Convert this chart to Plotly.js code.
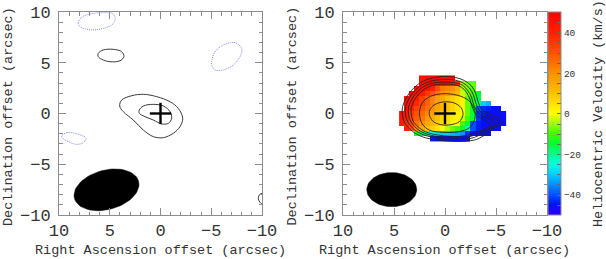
<!DOCTYPE html>
<html><head><meta charset="utf-8">
<script src="https://cdn.plot.ly/plotly-3.0.1.min.js"></script>
<style>html,body{margin:0;padding:0;background:#fff}#plot{width:606px;height:259px}</style>
</head><body><div id="plot"></div>
<script>
// ---------- DATA ----------
const n = null;
// velocity map cell centres (arcsec)
const raCenters = [4.25,3.75,3.25,2.75,2.25,1.75,1.25,0.75,0.25,-0.25,-0.75,-1.25,-1.75,-2.25,-2.75,-3.25,-3.75,-4.25,-4.75,-5.25,-5.75];
const decCenters = [3.5,3.0,2.5,2.0,1.5,1.0,0.5,0.0,-0.5,-1.0,-1.5,-2.0,-2.5];
// heliocentric velocity (km/s), one row per declination
const velocity = [
  [n,n,n,n,45,46,47,47,46,45,44,n,n,n,n,n,n,n,n,n,n],
  [n,n,n,n,44,45,46,46,45,44,42,38,-5,-7,-8,n,n,n,n,n,n],
  [n,n,n,45,45,44,40,30,24,22,20,15,-4,-7,-9,n,n,n,n,n,n],
  [n,n,46,45,42,35,30,24,20,18,15,12,-3,-6,-10,-15,n,n,n,n,n],
  [n,46,44,41,34,28,22,18,15,10,8,5,2,-8,-12,-16,n,n,n,n,n],
  [n,45,42,38,33,27,22,16,12,9,7,5,2,-8,-12,-18,-30,-32,n,n,n],
  [n,44,40,33,29,25,20,16,13,9,7,4,1,-8,-14,-40,-43,-44,-45,-45,n],
  [46,43,35,30,26,21,17,13,9,6,4,2,0,-8,-15,-42,-44,-45,-46,-46,-46],
  [44,41,33,28,24,18,14,10,7,5,3,1,-3,-10,-16,-42,-45,-46,-46,-46,-46],
  [42,38,32,24,20,15,12,8,6,4,2,0,-10,-15,-40,-44,-45,-46,-46,-46,-46],
  [n,40,30,22,15,10,7,4,0,-4,-8,-10,-14,-22,-40,-44,-46,-46,-46,-46,n],
  [n,n,n,-12,-16,-20,-25,-28,-30,-30,-32,-33,-35,-42,-45,-46,-46,-46,n,n,n],
  [n,n,n,n,n,n,-44,-45,-46,-46,-46,-46,-46,-46,n,n,n,n,n,n,n]
];
// left panel: integrated-intensity contours [RA, Dec]
const leftPosOuter = [[4.02,0.74],[3.82,1.33],[2.84,1.75],[1.69,1.89],[0.37,1.66],[-0.94,1.16],[-1.75,0.51],[-2.19,-0.48],[-1.92,-1.30],[-1.26,-1.95],[-0.28,-2.38],[0.71,-2.28],[1.69,-1.63],[2.68,-0.64],[3.67,0.18],[4.02,0.74]];
const leftPosInner = [[2.09,0.34],[1.69,0.74],[0.71,0.90],[-0.28,0.74],[-0.94,0.18],[-1.10,-0.48],[-0.77,-0.97],[-0.12,-1.03],[0.71,-0.64],[1.53,-0.31],[2.09,0.02],[2.09,0.34]];
const leftPosNorth = [[6.13,5.93],[5.64,6.26],[4.65,6.32],[3.82,6.09],[3.60,5.60],[3.99,5.20],[4.98,5.10],[5.79,5.34],[6.13,5.60],[6.13,5.93]];
const leftPosEdge = [[-10.0,-7.85],[-9.72,-8.05],[-9.64,-8.40],[-9.80,-8.75],[-10.0,-8.95]];
const leftNegNW = [[8.03,8.65],[8.10,8.95],[7.76,9.48],[6.95,9.80],[5.64,9.93],[4.65,9.80],[4.48,9.21],[4.81,8.72],[5.64,8.39],[6.62,8.23],[7.61,8.39],[8.03,8.65]];
const leftNegNE = [[-5.04,5.10],[-5.37,6.09],[-6.19,6.75],[-7.34,6.98],[-8.00,6.42],[-7.83,5.60],[-7.17,4.78],[-6.19,4.29],[-5.37,4.29],[-5.04,4.78],[-5.04,5.10]];
const leftNegW = [[9.73,-2.22],[9.24,-1.89],[8.42,-1.95],[7.34,-2.44],[7.61,-2.87],[8.26,-3.04],[9.08,-2.78],[9.64,-2.44],[9.73,-2.22]];
// right panel: intensity contours overlaid on the velocity map
const rightC1 = [[4.15,0.7],[3.5,2.0],[2.6,2.9],[1.6,3.4],[0.2,3.65],[-1.0,3.55],[-1.9,3.25],[-2.6,2.7],[-3.0,2.0],[-3.2,1.3],[-3.6,0.4],[-4.5,-0.1],[-5.3,-0.5],[-5.65,-0.85],[-5.2,-1.2],[-4.6,-1.6],[-4.0,-2.05],[-3.1,-2.55],[-1.8,-2.75],[0.5,-2.65],[2.2,-2.3],[3.2,-1.75],[3.9,-1.0],[4.15,-0.3],[4.15,0.7]];
const rightC2 = [[3.85,0.7],[3.25,1.9],[2.45,2.7],[1.5,3.15],[0.2,3.35],[-0.95,3.3],[-1.8,3.0],[-2.4,2.5],[-2.8,1.8],[-3.0,1.1],[-3.45,0.2],[-4.3,-0.3],[-5.0,-0.65],[-5.3,-0.95],[-4.9,-1.25],[-4.3,-1.6],[-3.7,-1.95],[-2.9,-2.35],[-1.7,-2.55],[0.5,-2.45],[2.1,-2.1],[3.0,-1.6],[3.6,-0.9],[3.85,-0.3],[3.85,0.7]];
const rightC3 = [[3.55,0.7],[3.0,1.8],[2.3,2.5],[1.4,2.95],[0.2,3.1],[-0.9,3.05],[-1.7,2.8],[-2.2,2.3],[-2.6,1.6],[-2.8,0.9],[-3.3,0.0],[-4.1,-0.45],[-4.7,-0.8],[-4.95,-1.05],[-4.6,-1.3],[-4.0,-1.6],[-3.4,-1.9],[-2.7,-2.2],[-1.6,-2.4],[0.5,-2.3],[2.0,-1.95],[2.8,-1.45],[3.35,-0.8],[3.55,-0.2],[3.55,0.7]];
const rightC4 = [[3.3,0.6],[2.8,1.65],[2.15,2.3],[1.3,2.75],[0.2,2.9],[-0.85,2.85],[-1.6,2.6],[-2.1,2.1],[-2.45,1.4],[-2.65,0.7],[-3.1,-0.15],[-3.8,-0.6],[-4.35,-0.95],[-4.55,-1.15],[-4.2,-1.35],[-3.7,-1.6],[-3.1,-1.85],[-2.5,-2.05],[-1.5,-2.25],[0.5,-2.15],[1.9,-1.8],[2.65,-1.3],[3.15,-0.7],[3.3,-0.1],[3.3,0.6]];
const rightC5 = [[2.5,0.1],[2.2,1.1],[1.4,1.7],[0.2,1.95],[-1.2,1.8],[-2.3,1.3],[-2.9,0.4],[-2.9,-0.6],[-2.4,-1.4],[-1.3,-1.8],[0.2,-1.85],[1.5,-1.65],[2.25,-1.0],[2.5,0.1]];
const rightC6 = [[1.55,0],[1.3,0.65],[0.6,1.05],[-0.3,1.15],[-1.1,0.95],[-1.65,0.45],[-1.75,-0.2],[-1.4,-0.8],[-0.6,-1.1],[0.4,-1.1],[1.2,-0.75],[1.55,0]];
// source position marker and synthesized beams
const source = {ra: 0, dec: 0, half: 1.05};
const beamLeft = {ra: 5.32, dec: -7.52, a: 3.27, b: 1.94, tilt: 15};
const beamRight = {ra: 5.22, dec: -7.5, a: 2.45, b: 1.68, tilt: 0};
// axes
const axisRange = [10, -10];
const tickStep = 5;
const cbarTickVals = [-50,-45,-40,-35,-30,-25,-20,-15,-10,-5,0,5,10,15,20,25,30,35,40,45,50];
const cbarLabelled = [-40,-20,0,20,40];

// ---------- BUILD ----------
const FONT = 'Liberation Mono, DejaVu Sans Mono, monospace';
const TXT = '#333';
const FRAME = '#8c8c8c';

// heatmap in ascending order of both coordinates
const hmX = raCenters.slice().reverse();
const hmY = decCenters.slice().reverse();
const hmZ = velocity.slice().reverse().map(r => r.slice().reverse());

function path(pts){ return {x: pts.map(p=>p[0]), y: pts.map(p=>p[1])}; }
function line(pts, xa, ya, color, width, dash){
  const p = path(pts);
  return {type:'scatter', mode:'lines', x:p.x, y:p.y, xaxis:xa, yaxis:ya, hoverinfo:'skip',
    line:{color:color, width:width, dash:dash||'solid', shape:'spline', smoothing:1}};
}
function beam(bm, xa, ya){
  const xs=[], ys=[], t=bm.tilt*Math.PI/180;
  for(let i=0;i<=72;i++){
    const u=2*Math.PI*i/72;
    const sx = bm.a*Math.cos(u)*Math.cos(t) - bm.b*Math.sin(u)*Math.sin(t);
    const sy = bm.a*Math.cos(u)*Math.sin(t) + bm.b*Math.sin(u)*Math.cos(t);
    xs.push(bm.ra - sx); ys.push(bm.dec + sy);
  }
  return {type:'scatter', mode:'lines', x:xs, y:ys, xaxis:xa, yaxis:ya, fill:'toself',
    fillcolor:'#000', line:{color:'#000', width:0.5}, hoverinfo:'skip'};
}
function cross(xa, ya){
  return [
    {type:'scatter', mode:'lines', x:[source.ra+source.half, source.ra-source.half], y:[source.dec, source.dec], xaxis:xa, yaxis:ya, line:{color:'#000', width:2.4}, hoverinfo:'skip'},
    {type:'scatter', mode:'lines', x:[source.ra, source.ra], y:[source.dec-source.half, source.dec+source.half], xaxis:xa, yaxis:ya, line:{color:'#000', width:2.4}, hoverinfo:'skip'}
  ];
}

const POS = '#3a3a3a', NEG = '#8a8af0';
const traces = [
  {type:'heatmap', x:hmX, y:hmY, z:hmZ, xaxis:'x2', yaxis:'y2', zmin:-50, zmax:50,
   zsmooth:false, hoverinfo:'skip',
   colorscale:[[0,'#3000ff'],[0.05,'#0010ff'],[0.1,'#0050ff'],[0.15,'#0090ff'],[0.2,'#00d0ff'],[0.25,'#00ffe0'],[0.3,'#00ff90'],[0.35,'#00ff30'],[0.4,'#40ff00'],[0.45,'#a0ff00'],[0.5,'#ffff00'],[0.55,'#ffe000'],[0.6,'#ffc000'],[0.65,'#ffa800'],[0.7,'#ff9000'],[0.75,'#ff7000'],[0.8,'#ff5000'],[0.85,'#ff3800'],[0.9,'#ff2000'],[0.95,'#ff1000'],[1,'#ff0000']],
   colorbar:{x:547.5/606, xanchor:'left', xref:'paper', y:1-113.9/259, yanchor:'middle', len:202.5/259, lenmode:'fraction',
     thickness:12.5, thicknessmode:'pixels', xpad:0, ypad:0, outlinewidth:1, outlinecolor:FRAME,
     tickmode:'array', tickvals:cbarTickVals, ticktext:cbarTickVals.map(v=>cbarLabelled.includes(v)?(v<0?'\u2212'+(-v):String(v)):''),
     ticks:'inside', ticklen:4, tickcolor:'#666', tickwidth:1,
     tickfont:{family:FONT, size:9.5, color:TXT}, title:{text:''}}
  },
  line(leftPosOuter,'x','y',POS,1),
  line(leftPosInner,'x','y',POS,1),
  line(leftPosNorth,'x','y',POS,1),
  line(leftPosEdge,'x','y',POS,1),
  line(leftNegNW,'x','y',NEG,1,'1px,1px'),
  line(leftNegNE,'x','y',NEG,1,'1px,1px'),
  line(leftNegW,'x','y',NEG,1,'1px,1px'),
  beam(beamLeft,'x','y'),
  ...cross('x','y'),
  line(rightC1,'x2','y2','#222',0.9),
  line(rightC2,'x2','y2','#222',0.9),
  line(rightC3,'x2','y2','#222',0.9),
  line(rightC4,'x2','y2','#222',0.9),
  line(rightC5,'x2','y2','#222',0.9),
  line(rightC6,'x2','y2','#222',0.9),
  beam(beamRight,'x2','y2'),
  ...cross('x2','y2')
];

function axis(dom, range, anchor, isX){
  return {domain:dom, range:range, anchor:anchor, showgrid:false, zeroline:false,
    showline:true, linecolor:FRAME, linewidth:1, mirror:'ticks',
    ticks:'inside', ticklen:7, tickwidth:1, tickcolor:FRAME,
    tickmode:'linear', tick0:0, dtick:tickStep,
    minor:{dtick:1, tick0:0, ticks:'inside', ticklen:3.5, tickcolor:FRAME, tickwidth:1},
    tickfont:{family:FONT, size:17, color:TXT},
    ticklabelstandoff: isX ? 0 : 4,
    fixedrange:true};
}
const yDom = [1-215/259, 1-12/259];
const layout = {
  width:606, height:259, margin:{l:0,r:0,t:0,b:0}, showlegend:false,
  paper_bgcolor:'#fff', plot_bgcolor:'#fff',
  xaxis: axis([59/606, 262/606], axisRange, 'y', true),
  yaxis: axis(yDom, [-10,10], 'x', false),
  xaxis2: axis([343/606, 547/606], axisRange, 'y2', true),
  yaxis2: axis(yDom, [-10,10], 'x2', false),
  annotations:[
    {text:'Right Ascension offset (arcsec)', xref:'paper', yref:'paper', x:160.5/606, y:1-250.5/259, xanchor:'center', yanchor:'middle', showarrow:false, font:{family:FONT, size:13.5, color:TXT}},
    {text:'Right Ascension offset (arcsec)', xref:'paper', yref:'paper', x:445/606, y:1-250.5/259, xanchor:'center', yanchor:'middle', showarrow:false, font:{family:FONT, size:13.5, color:TXT}},
    {text:'Declination offset (arcsec)', xref:'paper', yref:'paper', x:8.5/606, y:1-116.5/259, xanchor:'center', yanchor:'middle', textangle:-90, showarrow:false, font:{family:FONT, size:13.5, color:TXT}},
    {text:'Declination offset (arcsec)', xref:'paper', yref:'paper', x:292/606, y:1-116.5/259, xanchor:'center', yanchor:'middle', textangle:-90, showarrow:false, font:{family:FONT, size:13.5, color:TXT}},
    {text:'Heliocentric Velocity (km/s)', xref:'paper', yref:'paper', x:598.5/606, y:1-113.5/259, xanchor:'center', yanchor:'middle', textangle:-90, showarrow:false, font:{family:FONT, size:13.5, color:TXT}}
  ]
};
Plotly.newPlot('plot', traces, layout, {displayModeBar:false, staticPlot:true});
</script></body></html>
